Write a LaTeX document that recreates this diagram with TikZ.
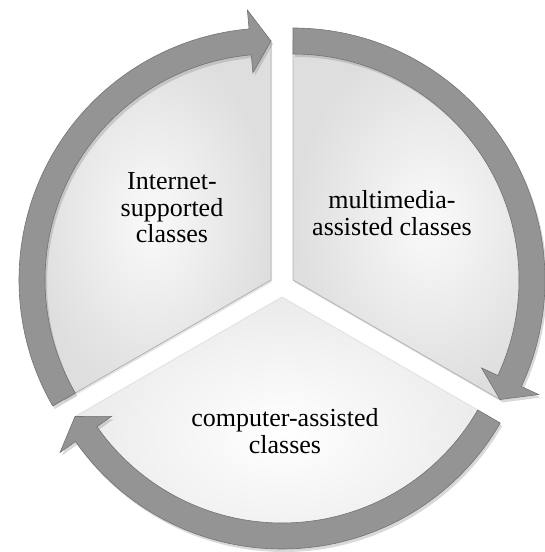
\documentclass[tikz,border=0pt]{standalone}
\usepackage{fontspec}
\setmainfont{Liberation Serif}
\usetikzlibrary{calc, shadows}
\tikzstyle{piece} = [draw=black!30, line width=0.8pt, inner color=black!2, outer color=black!13, drop shadow={opacity=0.2, shadow xshift=1pt, shadow yshift=-2pt}]
\tikzstyle{lightpiece} = [piece, draw=black!12, inner color=white, outer color=black!8]
\tikzstyle{cyclearrow} = [draw=black!55, line width=0.6pt, fill=black!42, drop shadow={opacity=0.3, shadow xshift=2pt, shadow yshift=-3pt}]
\tikzstyle{classtext} = [align=center, font=\fontsize{26}{26.5}\selectfont]

% band with arrow head: centre, start angle, end angle
\newcommand{\arrowband}[3]{%
  \draw [cyclearrow] ($(#1)+(#2:252)$) arc[start angle=#2, end angle=#3, radius=252]
    -- ($(#1)+(#3:271)$) -- ($(#1)+(#3-5:239)$) -- ($(#1)+(#3:208)$)
    -- ($(#1)+(#3:226)$) arc[start angle=#3, end angle=#2, radius=226] -- cycle;}

\begin{document}
\begin{tikzpicture}[x=1pt, y=1pt]

\useasboundingbox (0,0) rectangle (544,552);

\coordinate (internet) at (271, 272);
\coordinate (multimedia) at (293, 272);
\coordinate (computer) at (282, 255);

% pie pieces
\path [piece] (internet) -- ++(90:239) arc[start angle=90, end angle=210, radius=239] -- cycle;
\path [piece] (multimedia) -- ++(-30:239) arc[start angle=-30, end angle=90, radius=239] -- cycle;
\path [lightpiece] (computer) -- ++(210:239) arc[start angle=210, end angle=330, radius=239] -- cycle;

% arrows round the pieces
\arrowband{internet}{210}{95}
\arrowband{multimedia}{90}{-25}
\arrowband{computer}{-30}{-145}

\node at (172, 344) (internettext) [classtext] {Internet-\\supported\\classes};
\node at (392, 339) (multimediatext) [classtext] {multimedia-\\assisted classes};
\node at (285, 121) (computertext) [classtext] {computer-assisted\\classes};

\end{tikzpicture}
\end{document}
